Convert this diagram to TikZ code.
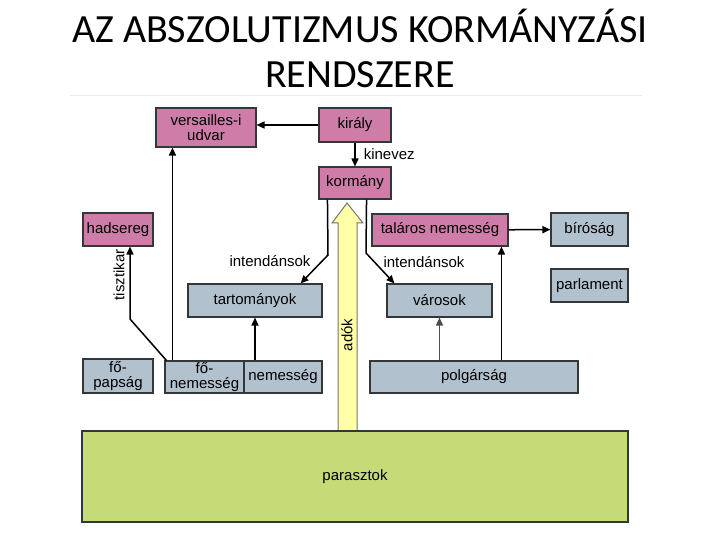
\documentclass[tikz,border=0pt]{standalone}
\usepackage{fontspec}
\setmainfont{Liberation Sans}
\newfontfamily\titlefont{Carlito}
\usetikzlibrary{arrows.meta,positioning}
\definecolor{rosepink}{RGB}{205,125,168}
\definecolor{steelgray}{RGB}{178,193,206}
\definecolor{leafgreen}{RGB}{196,219,120}
\definecolor{paleyellow}{RGB}{255,255,168}
\definecolor{edgegray}{RGB}{50,55,55}
\tikzset{
  box/.style={rectangle, draw=edgegray, line width=1.1pt, align=center, inner sep=1pt,
              font=\fontsize{15}{15}\selectfont},
  boxpink/.style={box, fill=rosepink},
  boxgray/.style={box, fill=steelgray},
  boxgreen/.style={box, fill=leafgreen},
  arrow/.style={-{Triangle[length=8pt,width=7pt]}, line width=1.5pt, black},
  arrowgray/.style={arrow, black!70},
  label/.style={font=\fontsize{15}{15}\selectfont, inner sep=1pt},
  title/.style={font=\titlefont\fontsize{40}{45}\selectfont, inner sep=0pt},
}

\begin{document}
\begin{tikzpicture}[x=1pt,y=-1pt]
\useasboundingbox (0,0) rectangle (720,540);
\node[title, anchor=base] (title1) at (360,43) {AZ ABSZOLUTIZMUS KORMÁNYZÁSI};
\node[title, anchor=base] (title2) at (360,88) {RENDSZERE};
\draw[black!8] (70,95) -- (642,95);

% adok arrow behind the boxes
\draw[fill=paleyellow, draw=black!55, line width=1pt]
  (338,431) -- (338,223) -- (332,223) -- (347,203) -- (363,223) -- (357,223) -- (357,431);
\node[label, rotate=90] (adok) at (347,335) {adók};

\node[boxpink, minimum width=100pt, minimum height=39pt] (udvar) at (206,127.5) {versailles-i\\udvar};
\node[boxpink, minimum width=72pt, minimum height=34pt] (kiraly) at (355,125) {király};
\node[boxpink, minimum width=72pt, minimum height=32pt] (kormany) at (355,183) {kormány};
\node[boxpink, minimum width=70pt, minimum height=33pt] (hadsereg) at (118,229.5) {hadsereg};
\node[boxpink, minimum width=136pt, minimum height=32pt] (talaros) at (440,230) {taláros nemesség};
\node[boxgray, minimum width=77pt, minimum height=33pt] (birosag) at (589.5,229.5) {bíróság};
\node[boxgray, minimum width=77pt, minimum height=33pt] (parlament) at (589.5,285.5) {parlament};
\node[boxgray, minimum width=134pt, minimum height=33pt] (tartomanyok) at (255,300.5) {tartományok};
\node[boxgray, minimum width=105pt, minimum height=33pt] (varosok) at (439.5,300.5) {városok};
\node[boxgray, minimum width=70pt, minimum height=34pt] (fopapsag) at (118,376) {fő-\\papság};
\node[boxgray, minimum width=79pt, minimum height=32pt] (fonemesseg) at (204.5,377) {fő-\\nemesség};
\node[boxgray, minimum width=78pt, minimum height=32pt] (nemesseg) at (283,377) {nemesség};
\node[boxgray, minimum width=208pt, minimum height=32pt] (polgarsag) at (474,377) {polgárság};
\node[boxgreen, minimum width=546pt, minimum height=91pt] (parasztok) at (355,476.5) {parasztok};

\draw[arrow] (kiraly.west) -- (kiraly.west -| udvar.east);
\draw[arrow] (kiraly) -- (kormany) node[midway, right, label, xshift=7pt] {kinevez};
\draw[arrow] (talaros) -- (birosag);

% intendansok
\coordinate (bendleft) at (328,255);
\coordinate (bendright) at (366,253);
\draw[arrow] ([xshift=9pt]kormany.south west) -- (bendleft) -- ([xshift=-22pt]tartomanyok.north east);
\draw[arrow] ([xshift=-25pt]kormany.south east) -- (bendright) -- ([xshift=8pt]varosok.north west);
\node[label] (intleft) at (270,261) {intendánsok};
\node[label] (intright) at (424,262) {intendánsok};

\draw[arrow] ([xshift=132pt]polgarsag.north west) -- ([xshift=132pt]polgarsag.north west |- talaros.south);
\draw[arrowgray] (varosok.south |- polgarsag.north) -- (varosok.south);
\draw[arrow] (tartomanyok.south |- nemesseg.north) -- (tartomanyok.south);
\draw[arrow] ([xshift=8pt]fonemesseg.north west) -- ([xshift=8pt]fonemesseg.north west |- udvar.south);

% tisztikar
\coordinate (bendarmy) at (130,319);
\draw[arrow] ([xshift=2pt]fonemesseg.north west) -- (bendarmy) -- (bendarmy |- hadsereg.south);
\node[label, rotate=90] (tisztikar) at (119,275) {tisztikar};
\end{tikzpicture}
\end{document}
